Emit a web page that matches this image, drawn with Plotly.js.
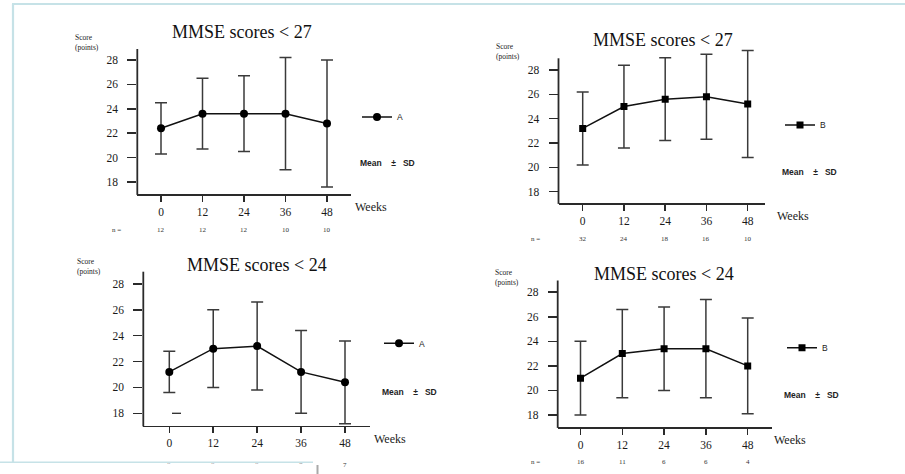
<!DOCTYPE html>
<html>
<head>
<meta charset="utf-8">
<script src="https://cdn.plot.ly/plotly-3.0.1.min.js"></script>
<style>
  html, body { margin: 0; padding: 0; background: #ffffff; }
  #chart { width: 905px; height: 474px; }
</style>
</head>
<body>
<div id="chart"></div>
<script>
// Follow-up weeks shared by every panel
const weeks = [0, 12, 24, 36, 48];
const yTicks = [18, 20, 22, 24, 26, 28];

// MMSE < 27, group A (mean, SD, n)
const a27Mean = [22.4, 23.6, 23.6, 23.6, 22.8];
const a27Sd   = [2.1, 2.9, 3.1, 4.6, 5.2];
const a27N    = [12, 12, 12, 10, 10];

// MMSE < 27, group B
const b27Mean = [23.2, 25.0, 25.6, 25.8, 25.2];
const b27Sd   = [3.0, 3.4, 3.4, 3.5, 4.4];
const b27N    = [32, 24, 18, 16, 10];

// MMSE < 24, group A
const a24Mean = [21.2, 23.0, 23.2, 21.2, 20.4];
const a24Sd   = [1.6, 3.0, 3.4, 3.2, 3.2];
const a24N    = [8, 8, 8, 7, 7];

// MMSE < 24, group B
const b24Mean = [21.0, 23.0, 23.4, 23.4, 22.0];
const b24Sd   = [3.0, 3.6, 3.4, 4.0, 3.9];
const b24N    = [16, 11, 6, 6, 4];

const panelTitles = ['MMSE scores < 27', 'MMSE scores < 27', 'MMSE scores < 24', 'MMSE scores < 24'];
const groupNames  = ['A', 'B', 'A', 'B'];

const W = 905, H = 474;
const px = x => x / W;
const py = y => 1 - y / H;

const SERIF = 'Liberation Serif, Times New Roman, serif';
const SANS = 'Liberation Sans, Arial, sans-serif';
const INK = '#2a2a2a';

// Panel geometry in page pixels: plot box and where 0/48 weeks and 18/28 points fall
const panels = [
  { L: 137.3, R: 350.5, x0: 161.0, x48: 327.0, top: 49.0,  B: 194.0, y28: 60.0,  y18: 182.0,
    titleX: 242, titleY: 32, scoreX: 73, scoreY: 42, legX: 357, legY: 117, msdX: 358, msdY: 163,
    weeksX: 352.5, nLabelX: 117, nDy: 36, mean: a27Mean, sd: a27Sd, n: a27N, symbol: 'circle' },
  { L: 558.5, R: 765.0, x0: 582.7, x48: 747.7, top: 58.3,  B: 203.0, y28: 70.0,  y18: 191.7,
    titleX: 663, titleY: 40, scoreX: 494, scoreY: 51, legX: 780, legY: 125, msdX: 780, msdY: 171.7,
    weeksX: 775, nLabelX: 535, nDy: 36, mean: b27Mean, sd: b27Sd, n: b27N, symbol: 'square' },
  { L: 143.3, R: 370.0, x0: 169.3, x48: 345.0, top: 271.7, B: 425.5, y28: 284.0, y18: 413.3,
    titleX: 257, titleY: 265, scoreX: 75, scoreY: 266.5, legX: 379, legY: 343.3, msdX: 380, msdY: 392.3,
    weeksX: 371.7, nLabelX: 120, nDy: 39.5, mean: a24Mean, sd: a24Sd, n: a24N, symbol: 'circle' },
  { L: 557.7, R: 771.7, x0: 580.5, x48: 747.7, top: 280.5, B: 427.0, y28: 292.2, y18: 415.0,
    titleX: 664, titleY: 274, scoreX: 492.7, scoreY: 277, legX: 782, legY: 347.7, msdX: 781.7, msdY: 395,
    weeksX: 771.7, nLabelX: 535, nDy: 35, mean: b24Mean, sd: b24Sd, n: b24N, symbol: 'square' }
];

const traces = [];
const layout = {
  width: W, height: H,
  margin: { l: 0, r: 0, t: 0, b: 0 },
  paper_bgcolor: '#ffffff',
  plot_bgcolor: 'rgba(0,0,0,0)',
  showlegend: true,
  annotations: [],
  shapes: []
};

panels.forEach((p, i) => {
  const k = i + 1;
  const sfx = k === 1 ? '' : String(k);
  const xs = (p.x48 - p.x0) / 48;
  const ys = (p.y18 - p.y28) / 10;
  const xRange = [(p.L - p.x0) / xs, 48 + (p.R - p.x48) / xs];
  const yMin = 18 - (p.B - p.y18) / ys;
  const yMax = 30;
  const topPx = p.y28 - (yMax - 28) * ys;

  layout['xaxis' + sfx] = {
    domain: [px(p.L), px(p.R)], range: xRange, anchor: 'y' + sfx,
    tickmode: 'array', tickvals: weeks, ticktext: weeks.map(String),
    ticks: 'outside', ticklen: 6, tickwidth: 1.5, tickcolor: INK,
    showline: true, linecolor: INK, linewidth: 1.8,
    showgrid: false, zeroline: false, fixedrange: true,
    tickfont: { family: SERIF, size: 11.5, color: '#1a1a1a' }
  };
  layout['yaxis' + sfx] = {
    domain: [py(p.B), py(topPx)], range: [yMin, yMax], anchor: 'x' + sfx,
    tickmode: 'array', tickvals: yTicks, ticktext: yTicks.map(String),
    ticks: 'outside', ticklen: 9, tickwidth: 1.5, tickcolor: INK,
    ticklabelstandoff: 7,
    showline: false, showgrid: false, zeroline: false, fixedrange: true,
    tickfont: { family: SERIF, size: 11.5, color: '#1a1a1a' }
  };

  // vertical axis line stops at the top of the scale
  layout.shapes.push({
    type: 'line', xref: 'paper', yref: 'paper',
    x0: px(p.L), x1: px(p.L), y0: py(p.B + 0.9), y1: py(p.top),
    line: { color: INK, width: 1.8 }
  });

  const legendKey = k === 1 ? 'legend' : 'legend' + k;
  layout[legendKey] = {
    x: px(p.legX), y: py(p.legY), xanchor: 'left', yanchor: 'middle',
    bgcolor: 'rgba(0,0,0,0)', borderwidth: 0,
    font: { family: SANS, size: 8.5, color: '#222' },
    itemclick: false, itemdoubleclick: false
  };

  traces.push({
    type: 'scatter', mode: 'lines+markers',
    x: weeks, y: p.mean, name: groupNames[i],
    xaxis: 'x' + sfx, yaxis: 'y' + sfx, legend: legendKey,
    line: { color: '#111', width: 1.5 },
    marker: { symbol: p.symbol, size: p.symbol === 'circle' ? 8 : 7, color: '#000' },
    error_y: { type: 'data', array: p.sd, visible: true, color: '#3a3a3a', thickness: 1.5, width: 6 },
    hoverinfo: 'skip'
  });

  // panel title
  layout.annotations.push({
    xref: 'paper', yref: 'paper', x: px(p.titleX), y: py(p.titleY),
    xanchor: 'center', yanchor: 'middle', showarrow: false,
    text: panelTitles[i], font: { family: SERIF, size: 18, color: '#111' }
  });
  // axis caption
  layout.annotations.push({
    xref: 'paper', yref: 'paper', x: px(p.scoreX), y: py(p.scoreY),
    xanchor: 'left', yanchor: 'middle', align: 'left', showarrow: false,
    text: 'Score<br>(points)', font: { family: SERIF, size: 7.5, color: '#222' }
  });
  // x-axis caption
  layout.annotations.push({
    xref: 'paper', yref: 'paper', x: px(p.weeksX), y: py(p.B + 13),
    xanchor: 'left', yanchor: 'middle', showarrow: false,
    text: 'Weeks', font: { family: SERIF, size: 12, color: '#1a1a1a' }
  });
  // summary statistic note
  layout.annotations.push({
    xref: 'paper', yref: 'paper', x: px(p.msdX), y: py(p.msdY),
    xanchor: 'left', yanchor: 'middle', showarrow: false,
    text: 'Mean\u00a0\u00a0\u00a0\u00a0±\u00a0\u00a0\u00a0SD',
    font: { family: SANS, size: 8.5, color: '#222', weight: 'bold' }
  });
  // sample sizes under each time point
  const nY = py(p.B + p.nDy);
  layout.annotations.push({
    xref: 'paper', yref: 'paper', x: px(p.nLabelX), y: nY,
    xanchor: 'center', yanchor: 'middle', showarrow: false,
    text: 'n =', font: { family: SERIF, size: 7, color: '#333' }
  });
  p.n.forEach((v, j) => {
    layout.annotations.push({
      xref: 'x' + sfx, yref: 'paper', x: weeks[j], y: nY,
      xanchor: 'center', yanchor: 'middle', showarrow: false,
      text: String(v), font: { family: SERIF, size: 7, color: '#333' }
    });
  });
});

// short stray dash at the 18-point level of the lower left panel
layout.shapes.push({
  type: 'line', xref: 'paper', yref: 'paper',
  x0: px(172), x1: px(181), y0: py(413.3), y1: py(413.3),
  line: { color: INK, width: 1.3 }
});

// pale frame of the page
const FRAME = '#c6e2e7';
layout.shapes.push(
  { type: 'line', xref: 'paper', yref: 'paper', x0: px(12), x1: 1, y0: py(4), y1: py(4),
    line: { color: FRAME, width: 2 } },
  { type: 'line', xref: 'paper', yref: 'paper', x0: px(13), x1: px(13), y0: py(4), y1: py(462),
    line: { color: FRAME, width: 2.2 } },
  { type: 'line', xref: 'paper', yref: 'paper', x0: 0, x1: px(313), y0: py(462.3), y1: py(462.3),
    line: { color: FRAME, width: 1.6 } },
  { type: 'line', xref: 'paper', yref: 'paper', x0: px(317.5), x1: px(317.5), y0: py(465), y1: 0,
    line: { color: '#a9a9a9', width: 2 } }
);

// white strip that sits over the lower left corner
layout.annotations.push({
  xref: 'paper', yref: 'paper', x: 0, y: py(463.2),
  xanchor: 'left', yanchor: 'top', showarrow: false,
  text: '\u00a0', width: 313, height: 12, borderpad: 0,
  bgcolor: '#ffffff', font: { size: 6, color: '#ffffff' }
});

Plotly.newPlot('chart', traces, layout, { displayModeBar: false, staticPlot: true });
</script>
</body>
</html>
